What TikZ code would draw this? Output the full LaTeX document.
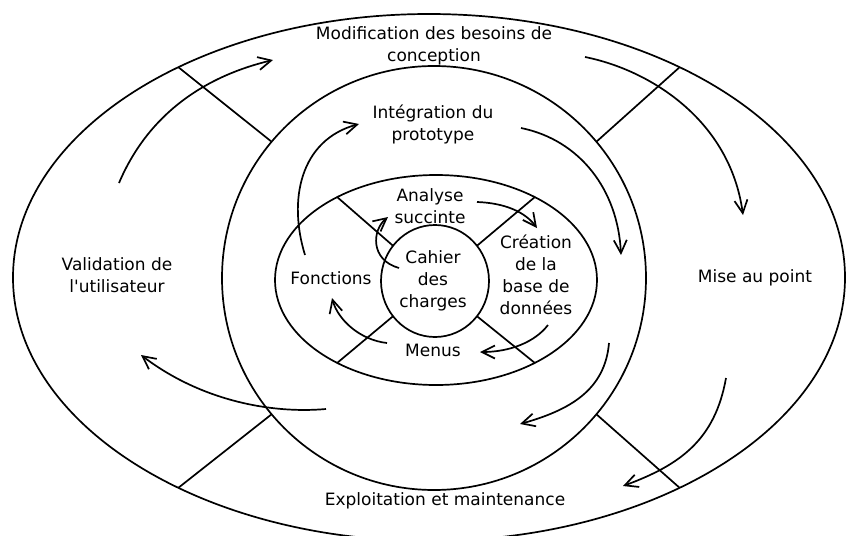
\documentclass[tikz,border=0pt]{standalone}
\usepackage{fontspec}
\setsansfont{DejaVu Sans}
\usepackage{tikz}
\usetikzlibrary{arrows.meta,shapes.geometric,positioning}
\tikzset{
  ring/.style   = {draw, ellipse, inner sep=0pt, outer sep=0pt, line width=1.7pt},
  phase/.style  = {align=center, font=\sffamily\fontsize{17}{22}\selectfont, inner sep=1pt},
  turn/.style   = {->, line width=1.7pt}
}

\begin{document}
\begin{tikzpicture}[x=1pt, y=-1pt,
  >={Straight Barb[length=13pt,width=13pt]}]
\useasboundingbox (0,0) rectangle (847,536);
\clip (0,0) rectangle (847,536);

% the rings, from outside in
\node[ring, minimum width=832pt, minimum height=527pt] (outer) at (429,277.5) {};
\node[ring, minimum width=424pt, minimum height=424pt] (middle) at (434,278) {};
\node[ring, minimum width=322pt, minimum height=210pt] (inner) at (436,280) {};
\node[ring, minimum width=108pt, minimum height=112pt] (core) at (435,281) {};

% dividers between the phases
\foreach \a in {40,140,220,320}{
  \draw[line width=1.7pt] (outer.\a) -- (middle.\a);
  \draw[line width=1.7pt] (inner.\a) -- (core.\a);
}

% phase names
\node[phase] (modif) at (434,46) {Modification des besoins de\\conception};
\node[phase] (integ) at (433,124) {Intégration du\\prototype};
\node[phase] (analyse) at (430,206) {Analyse\\succinte};
\node[phase] (cahier) at (433,281) {Cahier\\des\\charges};
\node[phase] (creation) at (536,275) {Création\\de la\\base de\\données};
\node[phase] (fonctions) at (331,278) {Fonctions};
\node[phase] (menus) at (433,350) {Menus};
\node[phase] (valid) at (117,275) {Validation de\\l\textquotesingle utilisateur};
\node[phase] (mise) at (755,278) {Mise au point};
\node[phase] (exploit) at (445,501) {Exploitation et maintenance};

% ends of the turning arrows
\coordinate (o1s) at (119,183); \coordinate (o1e) at (273,60);
\coordinate (o2s) at (585,57);  \coordinate (o2e) at (743,215);
\coordinate (o3s) at (726,378); \coordinate (o3e) at (623,486);
\coordinate (o4s) at (326,409); \coordinate (o4e) at (141,355);
\coordinate (m1s) at (305,255); \coordinate (m1e) at (359,124);
\coordinate (m2s) at (521,128); \coordinate (m2e) at (621,255);
\coordinate (m3s) at (609,343); \coordinate (m3e) at (520,424);
\coordinate (i1s) at (399,268); \coordinate (i1e) at (388,217);
\coordinate (i2s) at (477,202); \coordinate (i2e) at (537,228);
\coordinate (i3s) at (548,325); \coordinate (i3e) at (480,352);
\coordinate (i4s) at (387,343); \coordinate (i4e) at (332,298);

% outer turn
\draw[turn] (o1s) .. controls (150,110) and (210,75) .. (o1e);
\draw[turn] (o2s) .. controls (650,70) and (730,120) .. (o2e);
\draw[turn] (o3s) .. controls (715,440) and (680,465) .. (o3e);
\draw[turn] (o4s) .. controls (270,414) and (200,400) .. (o4e);
% middle turn
\draw[turn] (m1s) .. controls (288,200) and (300,140) .. (m1e);
\draw[turn] (m2s) .. controls (580,140) and (618,190) .. (m2e);
\draw[turn] (m3s) .. controls (605,390) and (570,410) .. (m3e);
% inner turn
\draw[turn] (i1s) .. controls (370,260) and (372,230) .. (i1e);
\draw[turn] (i2s) .. controls (505,203) and (525,212) .. (i2e);
\draw[turn] (i3s) .. controls (535,342) and (510,352) .. (i3e);
\draw[turn] (i4s) .. controls (360,340) and (338,320) .. (i4e);

\end{tikzpicture}
\end{document}
